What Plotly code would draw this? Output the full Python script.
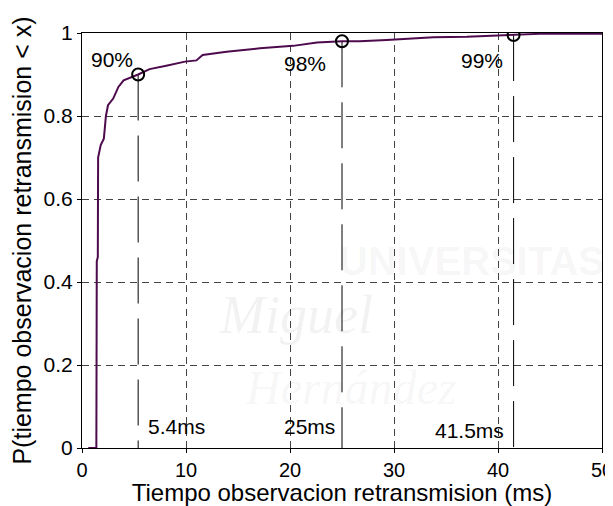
import plotly.graph_objects as go

# CDF curve
cdf_ms = [0.6, 1.38, 1.42, 1.52, 1.55, 1.8, 2.1, 2.2, 2.3, 2.5, 3.0, 3.5, 4.0, 5.4, 6.5, 8.1,
          9.9, 11.0, 11.6, 13.9, 17.1, 20.3, 21.6, 22.6, 25.0, 26.7, 29.3, 31.5, 33.8, 37.0,
          41.5, 44.0, 50.0]
cdf_p = [0.0, 0.0, 0.45, 0.46, 0.70, 0.73, 0.745, 0.77, 0.80, 0.826, 0.842, 0.87, 0.886, 0.90,
         0.913, 0.921, 0.931, 0.934, 0.947, 0.955, 0.963, 0.969, 0.973, 0.977, 0.98, 0.98,
         0.983, 0.986, 0.99, 0.991, 0.995, 0.998, 0.998]

# marked percentiles
mark_ms = [5.4, 25.0, 41.5]
mark_p = [0.90, 0.98, 0.995]
pct_labels = ["90%", "98%", "99%"]
ms_labels = ["5.4ms", "25ms", "41.5ms"]

x_ticks = [0, 10, 20, 30, 40, 50]
x_ticktext = ["0", "10", "20", "30", "40", "50"]
y_ticks = [0, 0.2, 0.4, 0.6, 0.8, 1.0]
y_ticktext = ["0", "0.2", "0.4", "0.6", "0.8", "1"]

FONT = "Liberation Sans, Arial, Helvetica, sans-serif"

fig = go.Figure()

# faint watermark
wm = "rgba(0,0,0,0.05)"
fig.add_annotation(x=24.5, y=0.45, xref="x", yref="y", text="<b>UNIVERSITAS</b>",
                   showarrow=False, xanchor="left", yanchor="middle",
                   font=dict(family=FONT, size=40, color=wm))
fig.add_annotation(x=13.0, y=0.32, xref="x", yref="y", text="<i>Miguel</i>",
                   showarrow=False, xanchor="left", yanchor="middle",
                   font=dict(family="Liberation Serif, serif", size=54, color=wm))
fig.add_annotation(x=15.5, y=0.145, xref="x", yref="y", text="<i>Hernández</i>",
                   showarrow=False, xanchor="left", yanchor="middle",
                   font=dict(family="Liberation Serif, serif", size=48, color=wm))

# vertical long-dash lines from each marker down to zero
for m, p in zip(mark_ms, mark_p):
    fig.add_trace(go.Scatter(x=[m, m], y=[p, 0], mode="lines",
                             line=dict(color="black", width=1, dash="46px,15px"),
                             showlegend=False, hoverinfo="skip"))

fig.add_trace(go.Scatter(x=cdf_ms, y=cdf_p, mode="lines",
                         line=dict(color="#4d0a4d", width=2),
                         showlegend=False))

fig.add_trace(go.Scatter(x=mark_ms, y=mark_p, mode="markers",
                         marker=dict(symbol="circle-open", size=12, color="black",
                                     line=dict(width=2, color="black")),
                         showlegend=False))

# percentage labels
pct_x = [5.1, 23.65, 40.7]
pct_y = [0.937, 0.927, 0.933]
for tx, ty, t in zip(pct_x, pct_y, pct_labels):
    fig.add_annotation(x=tx, y=ty, xref="x", yref="y", text=t, showarrow=False,
                       xanchor="right", yanchor="middle",
                       font=dict(family=FONT, size=21, color="black"))

ms_x = [6.2, 24.5, 40.8]
ms_anchor = ["left", "right", "right"]
ms_y = [0.052, 0.052, 0.043]
for tx, ty, t, a in zip(ms_x, ms_y, ms_labels, ms_anchor):
    fig.add_annotation(x=tx, y=ty, xref="x", yref="y", text=t, showarrow=False,
                       xanchor=a, yanchor="middle",
                       font=dict(family=FONT, size=21, color="black"))

axis_common = dict(showline=True, linecolor="black", linewidth=1, mirror=True,
                   showgrid=True, gridcolor="#444", gridwidth=1, griddash="7px,5px",
                   zeroline=False, ticks="outside", ticklen=4, tickcolor="black",
                   automargin=False)

# page body adds an 8px offset, so the figure is 8px smaller and margins shifted
fig.update_layout(
    width=605, height=498,
    margin=dict(l=74, r=11, t=25, b=58),
    paper_bgcolor="white", plot_bgcolor="white",
    xaxis=dict(range=[0, 50], tickvals=x_ticks, ticktext=x_ticktext,
               ticklabeloverflow="allow",
               tickfont=dict(family=FONT, size=20, color="black"),
               title=dict(text="Tiempo observacion retransmision (ms)",
                          font=dict(family=FONT, size=24, color="black"), standoff=6),
               **axis_common),
    yaxis=dict(range=[0, 1], tickvals=y_ticks, ticktext=y_ticktext,
               tickfont=dict(family=FONT, size=21, color="black"),
               title=dict(text="P(tiempo observacion retransmision < x)",
                          font=dict(family=FONT, size=25, color="black"), standoff=8),
               **axis_common),
)

fig.write_html("out.html")
